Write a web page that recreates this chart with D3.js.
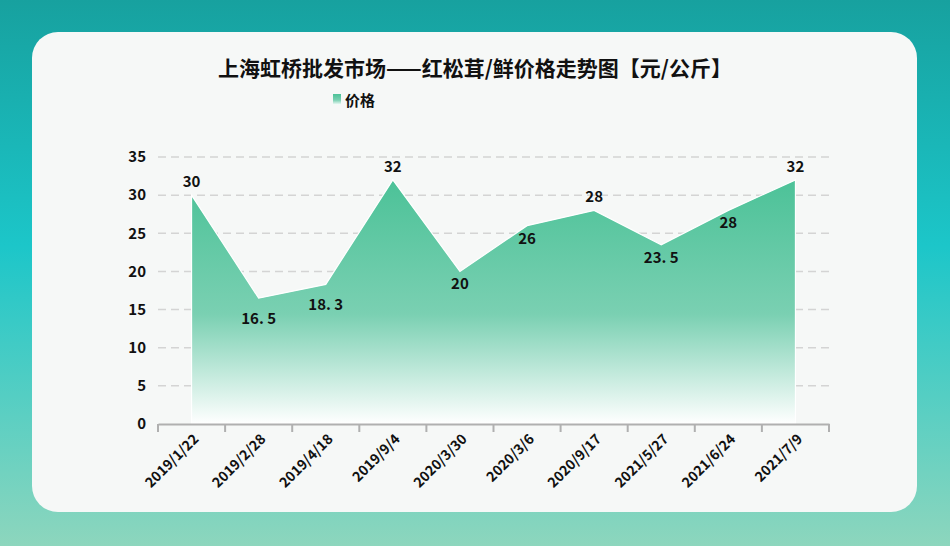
<!DOCTYPE html><html><head><meta charset="utf-8"><script src="https://cdn.jsdelivr.net/npm/d3@7"></script>
<style>body{margin:0}svg text{font-family:"Noto Sans CJK SC",sans-serif;font-weight:bold}</style></head><body>
<svg id="c" width="950" height="546"></svg>
<script>
const categories=["2019/1/22","2019/2/28","2019/4/18","2019/9/4","2020/3/30","2020/3/6","2020/9/17","2021/5/27","2021/6/24","2021/7/9"];
const values=[30,16.5,18.3,32,20,26,28,23.5,28,32];
const yTicks=[0,5,10,15,20,25,30,35];
const title="上海虹桥批发市场——红松茸/鲜价格走势图【元/公斤】";
const seriesName="价格";
const svg=d3.select("#c");
const defs=svg.append("defs");
const bg=defs.append("linearGradient").attr("id","bg").attr("x1",0).attr("y1",0).attr("x2",0).attr("y2",1);
[[0,"#17a19f"],[0.45,"#1cc6c9"],[1,"#8dd6bd"]].forEach(s=>bg.append("stop").attr("offset",s[0]).attr("stop-color",s[1]));
const ag=defs.append("linearGradient").attr("id","ag").attr("x1",0).attr("y1",0).attr("x2",0).attr("y2",1);
[[0,"#4cc298",1],[0.55,"#7ad0b2",1],[1,"#ffffff",1]].forEach(s=>ag.append("stop").attr("offset",s[0]).attr("stop-color",s[1]));
svg.append("rect").attr("width",950).attr("height",546).attr("fill","url(#bg)");
svg.append("rect").attr("x",32).attr("y",32).attr("width",885).attr("height",480).attr("rx",26).attr("fill","#f6f8f7");
const x=d3.scaleBand().domain(categories).range([158,829]);
const y=d3.scaleLinear().domain([0,35]).range([424,157]);
svg.append("g").selectAll("line").data(yTicks.filter(d=>d>0)).join("line")
 .attr("x1",158).attr("x2",829).attr("y1",d=>y(d)).attr("y2",d=>y(d))
 .attr("stroke","#d4d4d4").attr("stroke-width",1.5).attr("stroke-dasharray","8,5");
const cx=d=>x(d)+x.bandwidth()/2;
const area=d3.area().x((d,i)=>cx(categories[i])).y0(y(0)).y1(d=>y(d));
svg.append("path").datum(values).attr("d",area).attr("fill","url(#ag)").attr("stroke","#ffffff").attr("stroke-width",1.2);
const ya=svg.append("g").attr("transform","translate(158,0)").call(d3.axisLeft(y).tickValues(yTicks).tickSize(0).tickPadding(12));
ya.select(".domain").remove();
ya.selectAll("text").attr("font-size",15).attr("fill","#111");
const xa=svg.append("g").attr("transform","translate(0,424)").call(d3.axisBottom(x).tickSize(0));
xa.select(".domain").attr("stroke","#b0b0b0").attr("stroke-width",2);
xa.selectAll("text").remove();
svg.append("g").selectAll("line").data(categories.concat(["_end"])).join("line")
 .attr("x1",(d,i)=>158+i*x.bandwidth()).attr("x2",(d,i)=>158+i*x.bandwidth())
 .attr("y1",424).attr("y2",432).attr("stroke","#b0b0b0").attr("stroke-width",2);
svg.append("g").selectAll("text").data(categories).join("text")
 .attr("transform",d=>`translate(${cx(d)+8},${440}) rotate(-45)`)
 .attr("text-anchor","end").attr("font-size",14).attr("fill","#111").text(d=>d);
svg.append("g").selectAll("text").data(values).join("text")
 .attr("x",(d,i)=>cx(categories[i]))
 .attr("y",(d,i)=>{const p=values[i-1]??-1,n=values[i+1]??-1;return d>=p&&d>=n?y(d)-8:y(d)+(d<20?26:18);})
 .attr("text-anchor","middle").attr("font-size",15).attr("fill","#111")
 .text(d=>String(d).replace("."," . ").replace(" . ",". "));
svg.append("text").attr("x",475).attr("y",76).attr("text-anchor","middle").attr("font-size",21).attr("fill","#111").text(title);
svg.append("rect").attr("x",333).attr("y",94).attr("width",8).attr("height",11).attr("fill","url(#ag)");
svg.append("text").attr("x",345).attr("y",106).attr("font-size",15).attr("fill","#111").text(seriesName);
</script></body></html>
